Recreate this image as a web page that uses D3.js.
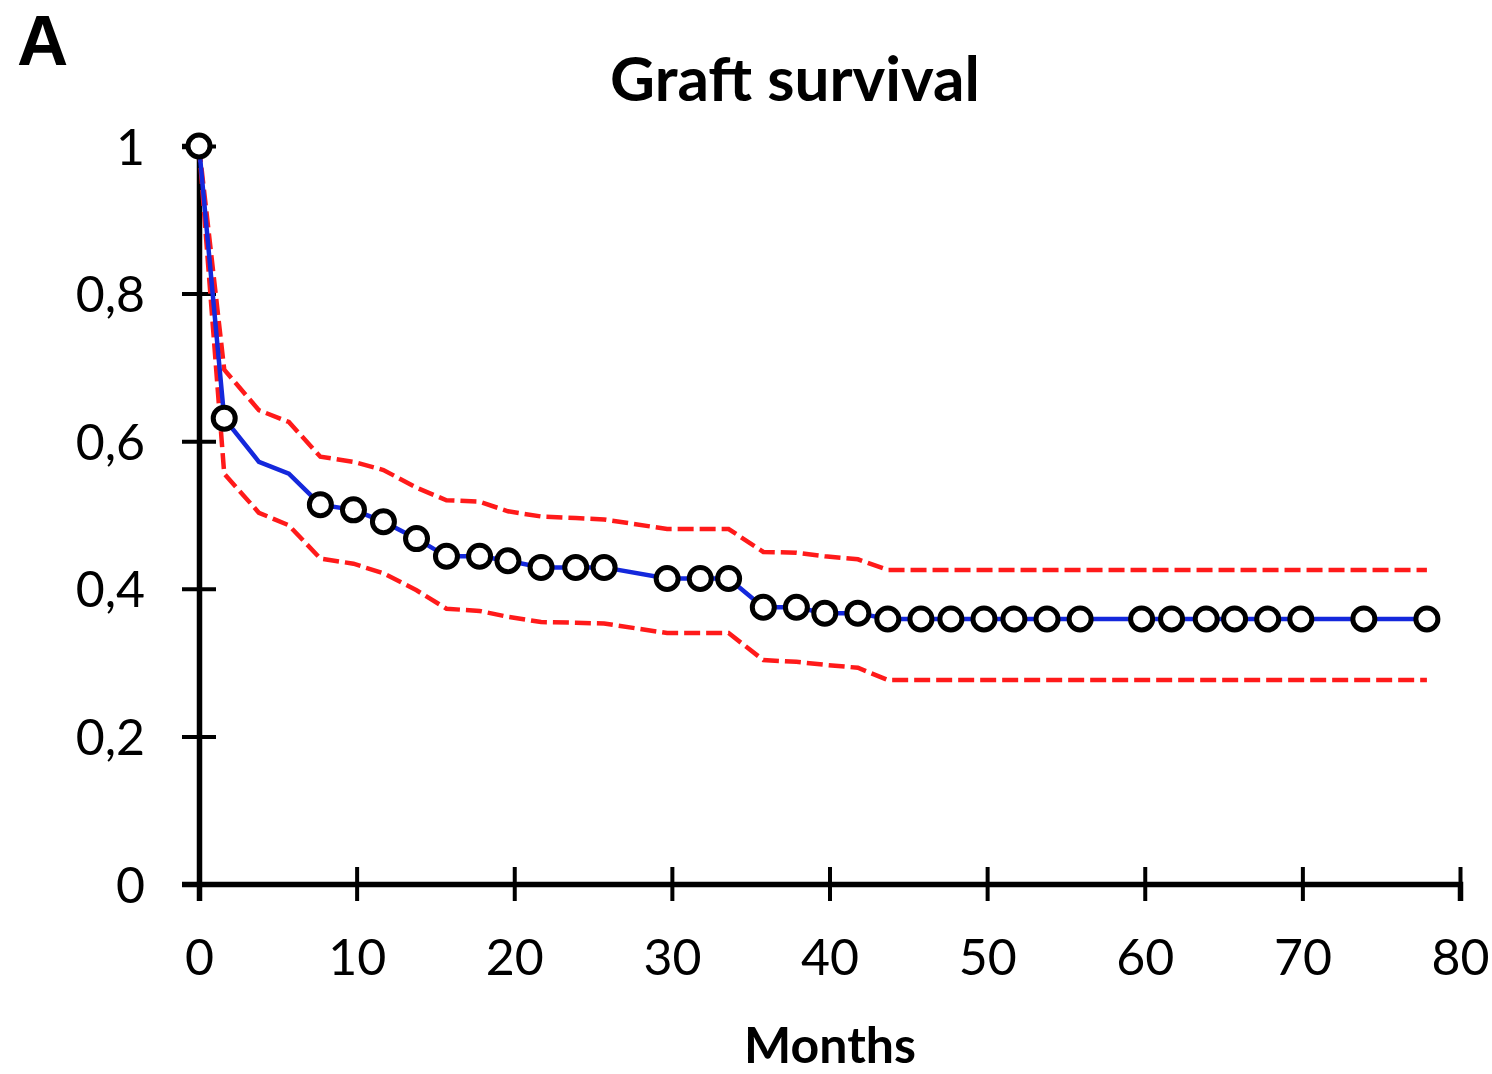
<!DOCTYPE html>
<html>
<head>
<meta charset="utf-8">
<script src="https://cdn.jsdelivr.net/npm/d3@7"></script>
<style>
  html, body { margin: 0; padding: 0; background: #ffffff; }
  svg { display: block; }
</style>
</head>
<body>
<svg id="chart" width="1492" height="1074"></svg>
<script>
// ---- data ----
const months   = [0, 1.6, 3.8, 5.7, 7.7, 9.8, 11.7, 13.8, 15.7, 17.8, 19.6, 21.7, 23.9, 25.7,
                  29.7, 31.8, 33.6, 35.8, 37.9, 39.7, 41.8, 43.7, 45.8, 47.7, 49.8, 51.7, 53.8,
                  55.9, 59.8, 61.7, 63.9, 65.7, 67.8, 69.9, 73.9, 77.9];
const survival = [1, 0.631, 0.572, 0.556, 0.514, 0.507, 0.491, 0.468, 0.444, 0.444, 0.438, 0.429,
                  0.429, 0.429, 0.414, 0.414, 0.414, 0.375, 0.375, 0.367, 0.367, 0.359, 0.359,
                  0.359, 0.359, 0.359, 0.359, 0.359, 0.359, 0.359, 0.359, 0.359, 0.359, 0.359,
                  0.359, 0.359];
const upperCI  = [1, 0.697, 0.642, 0.626, 0.579, 0.572, 0.561, 0.537, 0.520, 0.518, 0.505, 0.498,
                  0.496, 0.494, 0.481, 0.481, 0.481, 0.450, 0.449, 0.444, 0.440, 0.4255, 0.4255,
                  0.4255, 0.4255, 0.4255, 0.4255, 0.4255, 0.4255, 0.4255, 0.4255, 0.4255, 0.4255,
                  0.4255, 0.4255, 0.4255];
const lowerCI  = [1, 0.556, 0.503, 0.486, 0.441, 0.434, 0.421, 0.398, 0.373, 0.370, 0.362, 0.355,
                  0.354, 0.353, 0.340, 0.340, 0.340, 0.3035, 0.301, 0.297, 0.293, 0.2764, 0.2764,
                  0.2764, 0.2764, 0.2764, 0.2764, 0.2764, 0.2764, 0.2764, 0.2764, 0.2764, 0.2764,
                  0.2764, 0.2764, 0.2764];
const markerMonths = [0, 1.6, 7.7, 9.8, 11.7, 13.8, 15.7, 17.8, 19.6, 21.7, 23.9, 25.7, 29.7,
                      31.8, 33.6, 35.8, 37.9, 39.7, 41.8, 43.7, 45.8, 47.7, 49.8, 51.7, 53.8,
                      55.9, 59.8, 61.7, 63.9, 65.7, 67.8, 69.9, 73.9, 77.9];
const xTicks = [0, 10, 20, 30, 40, 50, 60, 70, 80];
const yTicks = [0, 0.2, 0.4, 0.6, 0.8, 1];
const yTickLabels = ["0", "0,2", "0,4", "0,6", "0,8", "1"];
const panelLabel = "A";
const titleText = "Graft survival";
const xAxisTitle = "Months";

// ---- layout ----
const svg = d3.select("#chart");
const x = d3.scaleLinear().domain([0, 80]).range([199, 1460]);
const y = d3.scaleLinear().domain([0, 1]).range([884, 146]);
const FONT = "Lato, 'Open Sans', sans-serif";

// axes
const gx = svg.append("g").attr("transform", `translate(0,${y(0)})`)
  .call(d3.axisBottom(x).tickValues(xTicks).tickSizeOuter(0).tickSize(17).tickFormat(d3.format("d")));
gx.select(".domain").attr("stroke", "#000").attr("stroke-width", 5.5);
gx.selectAll(".tick line").attr("y1", -17).attr("stroke", "#000").attr("stroke-width", 4);
gx.selectAll(".tick text").attr("y", 78).attr("dy", null).attr("dominant-baseline", "middle")
  .attr("font-family", FONT).attr("font-size", 50).attr("fill", "#000");

const gy = svg.append("g").attr("transform", `translate(${x(0)},0)`)
  .call(d3.axisLeft(y).tickValues(yTicks).tickSizeOuter(0).tickSize(17)
    .tickFormat((d, i) => yTickLabels[i]));
gy.select(".domain").attr("stroke", "#000").attr("stroke-width", 5.5);
gy.selectAll(".tick line").attr("x1", 17).attr("stroke", "#000").attr("stroke-width", 4);
gy.selectAll(".tick text").attr("x", -54).attr("dy", "0.36em")
  .attr("font-family", FONT).attr("font-size", 50).attr("fill", "#000");
svg.selectAll(".domain").attr("fill", "none");

// lines
const rows = months.map((m, i) => ({ m, s: survival[i], u: upperCI[i], l: lowerCI[i] }));
const lineOf = key => d3.line().x(d => x(d.m)).y(d => y(d[key]));

svg.append("path").datum(rows).attr("d", lineOf("u"))
  .attr("fill", "none").attr("stroke", "#ff1a1a").attr("stroke-width", 4.5)
  .attr("stroke-dasharray", "16 6");
svg.append("path").datum(rows).attr("d", lineOf("l"))
  .attr("fill", "none").attr("stroke", "#ff1a1a").attr("stroke-width", 4.5)
  .attr("stroke-dasharray", "16 6");
svg.append("path").datum(rows).attr("d", lineOf("s"))
  .attr("fill", "none").attr("stroke", "#1428dc").attr("stroke-width", 4.5);

// censor markers
const markers = markerMonths.map(m => ({ m, s: survival[months.indexOf(m)] }));
svg.append("g").selectAll("circle").data(markers).join("circle")
  .attr("cx", d => x(d.m)).attr("cy", d => y(d.s)).attr("r", 11)
  .attr("fill", "#fff").attr("stroke", "#000").attr("stroke-width", 5);

// texts
svg.append("text").text(panelLabel).attr("x", 17).attr("y", 65)
  .attr("font-family", "'Liberation Sans', Arial, sans-serif").attr("font-weight", "bold")
  .attr("font-size", 71).attr("fill", "#000");
svg.append("text").text(titleText).attr("x", 795).attr("y", 101).attr("text-anchor", "middle")
  .attr("font-family", FONT).attr("font-weight", "bold").attr("font-size", 62).attr("fill", "#000");
svg.append("text").text(xAxisTitle).attr("x", 830).attr("y", 1063).attr("text-anchor", "middle")
  .attr("font-family", FONT).attr("font-weight", "bold").attr("font-size", 50).attr("fill", "#000");
</script>
</body>
</html>
